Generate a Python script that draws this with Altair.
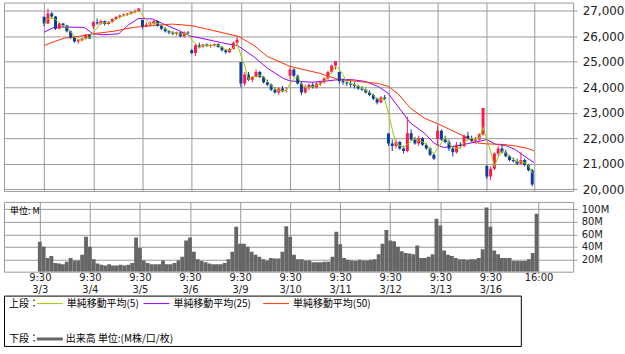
import json
import altair as alt
import pandas as pd

# ---------------- data ----------------
days = ["3/3", "3/4", "3/5", "3/6", "3/9", "3/10", "3/11", "3/12", "3/13", "3/16"]
bars_per_day = 13
tick_times = ["9:30"] * 10 + ["16:00"]
tick_dates = days + [""]

opens = [
    26760, 26500, 26900, 26780, 26300, 26500, 26420, 26200, 25950, 25800, 25850, 25900, 26050,  # 3/3
    26383, 26550, 26500, 26600, 26480, 26560, 26680, 26760, 26820, 26860, 26900, 26950, 26980,  # 3/4
    26639, 26400, 26450, 26500, 26600, 26420, 26300, 26200, 26150, 26100, 26150, 26000, 26150,  # 3/5
    25457, 25350, 25650, 25600, 25680, 25620, 25650, 25700, 25580, 25450, 25380, 25500, 25750,  # 3/6
    24992, 24150, 24500, 24300, 24400, 24600, 24400, 24200, 24100, 23900, 23800, 23950, 23850,  # 3/9
    24453, 24700, 24450, 24150, 23800, 24000, 24100, 24000, 24150, 24200, 24350, 24600, 24850,  # 3/10
    24604, 24250, 24200, 24150, 24100, 24050, 23950, 23900, 23800, 23700, 23550, 23400, 23600,  # 3/11
    22184, 21800, 21700, 21850, 21600, 21500, 22200, 21950, 21800, 22000, 21750, 21600, 21350,  # 3/12
    21973, 22300, 21950, 21850, 21600, 21450, 21750, 21700, 22100, 22000, 21900, 21950, 22150,  # 3/13
    20917, 20500, 20800, 21400, 21600, 21450, 21300, 21150, 21100, 21000, 21150, 20950, 20750,  # 3/16
]
highs = [
    26800, 27080, 26950, 26800, 26550, 26520, 26450, 26220, 26000, 25900, 25950, 26100, 26080,
    26600, 26700, 26650, 26620, 26600, 26700, 26800, 26850, 26900, 26920, 26980, 27050, 27102,
    26639, 26550, 26600, 26650, 26620, 26450, 26350, 26250, 26200, 26180, 26170, 26200, 26200,
    25500, 25700, 25750, 25700, 25720, 25700, 25720, 25720, 25620, 25500, 25550, 25800, 25994,
    24992, 24600, 24600, 24450, 24700, 24650, 24450, 24300, 24150, 24000, 24000, 24050, 24000,
    24800, 24750, 24500, 24200, 24100, 24150, 24200, 24200, 24250, 24400, 24650, 24900, 25020,
    24604, 24350, 24300, 24250, 24200, 24100, 24050, 23950, 23880, 23750, 23600, 23650, 23700,
    22200, 21950, 21950, 21900, 21700, 22837, 22350, 22050, 22100, 22050, 21800, 21650, 21400,
    22500, 22350, 22100, 21950, 21700, 21850, 21850, 22150, 22250, 22100, 22050, 22200, 23186,
    20950, 20900, 21450, 21700, 21768, 21550, 21350, 21250, 21200, 21450, 21200, 21000, 20800,
]
lows = [
    26400, 26480, 26700, 26250, 26280, 26350, 26150, 25900, 25750, 25710, 25800, 25880, 25900,
    26290, 26450, 26450, 26420, 26450, 26520, 26650, 26700, 26780, 26800, 26850, 26900, 26960,
    26300, 26350, 26400, 26450, 26380, 26250, 26150, 26080, 26050, 26030, 25960, 25943, 26080,
    25300, 25226, 25550, 25550, 25580, 25560, 25600, 25550, 25400, 25320, 25350, 25480, 25700,
    24000, 24050, 24250, 24200, 24380, 24350, 24150, 24050, 23850, 23750, 23706, 23800, 23800,
    24300, 24400, 24100, 23690, 23750, 23900, 23950, 23950, 24050, 24150, 24300, 24550, 24700,
    24150, 24100, 24050, 24000, 23950, 23900, 23850, 23750, 23650, 23500, 23328, 23380, 23500,
    21700, 21500, 21600, 21550, 21400, 21450, 21900, 21750, 21700, 21700, 21550, 21300, 21154,
    21700, 21900, 21800, 21500, 21285, 21400, 21600, 21650, 21950, 21850, 21800, 21900, 22100,
    20400, 20350, 20750, 21300, 21400, 21250, 21100, 21050, 20950, 20980, 20900, 20700, 20116,
]
closes = [
    26500, 26900, 26780, 26300, 26500, 26420, 26200, 25950, 25800, 25850, 25900, 26050, 25917,
    26550, 26500, 26600, 26480, 26560, 26680, 26760, 26820, 26860, 26900, 26950, 26980, 27091,
    26400, 26450, 26500, 26600, 26420, 26300, 26200, 26150, 26100, 26150, 26000, 26150, 26121,
    25350, 25650, 25600, 25680, 25620, 25650, 25700, 25580, 25450, 25380, 25500, 25750, 25865,
    24150, 24500, 24300, 24400, 24600, 24400, 24200, 24100, 23900, 23800, 23950, 23850, 23851,
    24700, 24450, 24150, 23800, 24000, 24100, 24000, 24150, 24200, 24350, 24600, 24850, 25018,
    24250, 24200, 24150, 24100, 24050, 23950, 23900, 23800, 23700, 23550, 23400, 23600, 23553,
    21800, 21700, 21850, 21600, 21500, 22200, 21950, 21800, 22000, 21750, 21600, 21350, 21200,
    22300, 21950, 21850, 21600, 21450, 21750, 21700, 22100, 22000, 21900, 21950, 22150, 23185,
    20500, 20800, 21400, 21600, 21450, 21300, 21150, 21100, 21000, 21150, 20950, 20750, 20188,
]
volumes_m = [
    48, 40, 22, 25, 14, 13, 12, 16, 22, 18, 18, 27, 56,
    40, 20, 13, 11, 10, 12, 10, 10, 11, 10, 11, 14, 55,
    38, 18, 14, 12, 12, 12, 18, 12, 12, 14, 18, 24, 50,
    55, 32, 20, 17, 15, 13, 12, 12, 12, 14, 20, 32, 72,
    45, 45, 40, 32, 27, 24, 20, 18, 22, 21, 21, 32, 73,
    56, 27, 20, 20, 18, 18, 15, 15, 15, 16, 16, 24, 64,
    44, 22, 19, 18, 17, 19, 18, 18, 19, 20, 28, 45, 67,
    50, 49, 40, 33, 30, 29, 28, 42, 22, 22, 24, 28, 85,
    74, 34, 27, 25, 22, 20, 20, 19, 20, 20, 22, 36, 103,
    72, 34, 28, 22, 22, 22, 17, 17, 17, 17, 20, 30, 93,
]

# 25- and 50-period moving averages (bar position, value)
ma25_pos = [0, 2.8, 10.6, 12.9, 15.8, 19.7, 22.3, 24.9, 28.7, 31.3, 35.2, 38.8, 41.7, 46.9,
            51.3, 55.4, 59.0, 63.2, 65.0, 70.9, 74.6, 77.9, 81.3, 84.9, 88.3, 90.9, 93.5,
            96.8, 100.5, 103.1, 105.6, 109.0, 111.6, 115.0, 117.0, 119.4, 121.9, 124.5,
            127.9, 129.5]
ma25_val = [26160, 26370, 26350, 26100, 26060, 26100, 26450, 26700, 26680, 26500, 26250,
            26000, 25920, 25750, 25620, 25200, 24750, 24350, 24250, 24200, 24250, 24300,
            24300, 24230, 24030, 23770, 23250, 22600, 22200, 21800, 21640, 21700, 21780,
            21880, 21950, 21760, 21720, 21560, 21200, 21050]
ma50_pos = [0, 2.8, 5.4, 9.3, 12.9, 18.4, 23.6, 28.7, 33.9, 38.8, 41.7, 51.3, 55.4, 59.0,
            65.0, 72.8, 77.9, 83.1, 88.3, 90.9, 93.5, 96.8, 100.5, 104.3, 110.8, 114.2,
            117.0, 121.2, 124.5, 127.9, 129.5]
ma50_val = [25640, 25800, 25930, 26000, 26100, 26200, 26350, 26420, 26480, 26420, 26330,
            26000, 25650, 25210, 24820, 24550, 24300, 24230, 24150, 24040, 23750, 23180,
            22790, 22550, 22090, 21820, 21780, 21760, 21700, 21600, 21500]

price_ticks = [20000, 21000, 22000, 23000, 24000, 25000, 26000, 27000]
volume_ticks = [20, 40, 60, 80, 100]
legend_labels = ["単純移動平均(5)", "単純移動平均(25)", "単純移動平均(50)"]
volume_label = "出来高 単位:(M株/口/枚)"

# ---------------- tables ----------------
bars = pd.DataFrame({
    "pos": list(range(len(closes))),
    "open": opens, "high": highs, "low": lows, "close": closes,
    "volume": volumes_m,
})
ma = pd.concat([
    pd.DataFrame({"pos": ma25_pos, "value": ma25_val, "series": "ma25"}),
    pd.DataFrame({"pos": ma50_pos, "value": ma50_val, "series": "ma50"}),
])

RED = "#ff1a4a"
BLUE = "#0d3c9c"
C5, C25, C50 = "#99cc00", "#9900ff", "#ff3300"
GRID = "#9a9a9a"
CJK = "Noto Sans CJK JP"

tick_values = [i * bars_per_day for i in range(len(days))] + [129.5]
tick_labels = [[t, d] if d else [t] for t, d in zip(tick_times, tick_dates)]
label_expr = json.dumps(tick_labels, ensure_ascii=False) + "[round(datum.value / 13)]"

x_dom = [-9.3, 138.5]
W = 571

x_scale = alt.Scale(domain=x_dom, nice=False, zero=False)
x_axis_price = alt.Axis(values=tick_values, labels=False, ticks=False, domain=False,
                        grid=True, title=None)
y_scale_price = alt.Scale(domain=[19934, 27325], nice=False, zero=False)
y_axis_price = alt.Axis(orient="right", values=price_ticks, format=",d", title=None,
                        tickSize=4, labelPadding=5, labelFontSize=12, tickColor=GRID,
                        grid=True, labelOverlap=False, labelFlush=False, tickCount=8)


def px(field):
    return alt.X(field, scale=x_scale, axis=x_axis_price)


def py(field):
    return alt.Y(field, scale=y_scale_price, axis=y_axis_price)


color_cond = alt.condition("datum.close >= datum.open", alt.value(RED), alt.value(BLUE))

base = alt.Chart(bars)
ma_lines = alt.Chart(ma).mark_line(strokeWidth=1, clip=True).encode(
    x=px("pos:Q"), y=py("value:Q"),
    color=alt.Color("series:N", scale=alt.Scale(domain=["ma25", "ma50"], range=[C25, C50]),
                    legend=None),
)
wicks = base.mark_rule(strokeWidth=1, clip=True).encode(
    x=px("pos:Q"), y=py("low:Q"), y2="high:Q", color=color_cond,
)
bodies = base.mark_bar(size=3, clip=True).encode(
    x=px("pos:Q"), y=py("open:Q"), y2="close:Q", color=color_cond,
)
ma5_line = base.transform_window(
    ma5="mean(close)", frame=[-2, 0], sort=[alt.SortField("pos")]
).mark_line(color=C5, strokeWidth=1, clip=True).encode(x=px("pos:Q"), y=py("ma5:Q"))

price = alt.layer(ma_lines, wicks, bodies, ma5_line).properties(
    width=W, height=189, view=alt.ViewBackground(stroke=GRID)
)

vol_bars = base.transform_calculate(
    x0="datum.pos - 0.5", x1="datum.pos + 0.5"
).mark_rect(color="#666666", clip=True).encode(
    x=alt.X("x0:Q", scale=x_scale,
            axis=alt.Axis(values=tick_values, labelExpr=label_expr, grid=True, title=None,
                          tickSize=2, tickColor=GRID, labelPadding=-1, labelFontSize=10,
                          labelLineHeight=12, labelBaseline="top", labelOverlap=False,
                          labelFlush=False)),
    x2="x1:Q",
    y=alt.Y("volume:Q", scale=alt.Scale(domain=[0, 112], nice=False),
            axis=alt.Axis(orient="right", values=volume_ticks,
                          labelExpr="datum.value + 'M'", title=None, tickSize=4,
                          labelPadding=4, labelFontSize=10, tickColor=GRID, grid=True,
                          labelOverlap=False)),
)
unit_text = alt.Chart(alt.Data(values=[{}])).mark_text(
    text="単位: M", align="left", baseline="middle", font=CJK, fontSize=9, color="#000"
).encode(x=alt.value(6), y=alt.value(9))

volume = alt.layer(vol_bars, unit_text).properties(
    width=W, height=70, view=alt.ViewBackground(stroke=GRID)
)

# ---------------- legend box ----------------
one = alt.Data(values=[{}])
box = alt.Chart(one).mark_rect(fill="white", stroke="#000", strokeWidth=1).encode(
    x=alt.value(0.5), x2=alt.value(519), y=alt.value(13.5), y2=alt.value(64)
)


def txt(t, x, y):
    return alt.Chart(one).mark_text(
        text=t, align="left", baseline="middle", font=CJK, fontSize=10, color="#000"
    ).encode(x=alt.value(x), y=alt.value(y))


def seg(color, x, y, w):
    return alt.Chart(one).mark_rule(color=color, strokeWidth=w).encode(
        x=alt.value(x), x2=alt.value(x + 26), y=alt.value(y)
    )


legend = alt.layer(
    box,
    txt("上段：", 5, 21),
    seg(C5, 33, 21, 1), txt(legend_labels[0], 63, 21),
    seg(C25, 140, 21, 1), txt(legend_labels[1], 170, 21),
    seg(C50, 260, 21, 1), txt(legend_labels[2], 290, 21),
    txt("下段：", 5, 56.5),
    seg("#666666", 33, 56.5, 3), txt(volume_label, 62, 56.5),
).properties(width=519, height=64, view=alt.ViewBackground(strokeOpacity=0))

chart = alt.vconcat(price, volume, legend, spacing=11, bounds="flush").properties(
    padding={"left": 3, "top": 1, "right": 0, "bottom": 0}
).configure_axis(
    gridColor=GRID, gridWidth=1, domain=False, labelColor="#222", labelFont="DejaVu Sans"
).configure_view(strokeWidth=1)

chart.save("out.html", embed_options={"renderer": "svg", "actions": False})
